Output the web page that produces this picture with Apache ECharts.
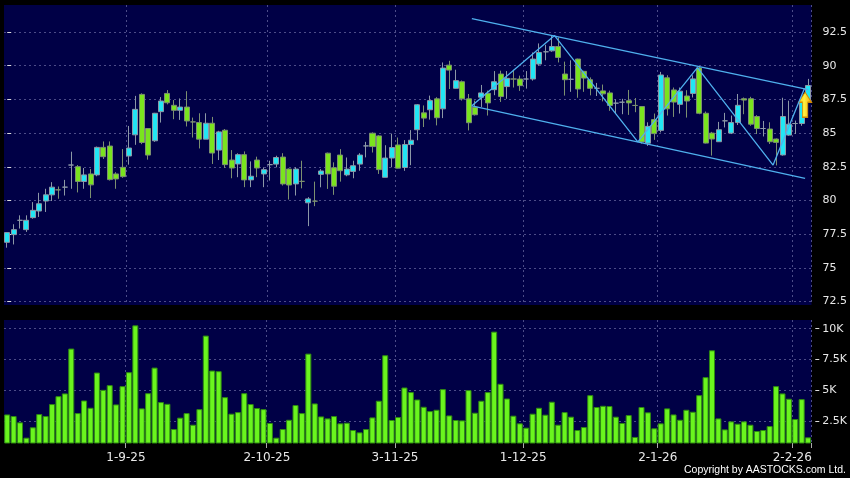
<!DOCTYPE html>
<html>
<head>
<meta charset="utf-8">
<title>AASTOCKS daily chart</title>
<script src="https://cdn.jsdelivr.net/npm/echarts@6/dist/echarts.min.js"></script>
<style>
  html, body { margin: 0; padding: 0; background: #000; }
  #chart { width: 850px; height: 478px; }
</style>
</head>
<body>
<div id="chart"></div>
<script>
// trading days (D-M-YY)
const dates = [
  '5-8-25','6-8-25','7-8-25','8-8-25','11-8-25','12-8-25','13-8-25','14-8-25','15-8-25','18-8-25',
  '19-8-25','20-8-25','21-8-25','22-8-25','25-8-25','26-8-25','27-8-25','28-8-25','29-8-25',
  '1-9-25','2-9-25','3-9-25','4-9-25','5-9-25','8-9-25','9-9-25','10-9-25','11-9-25','12-9-25',
  '15-9-25','16-9-25','17-9-25','18-9-25','19-9-25','22-9-25','23-9-25','24-9-25','25-9-25','26-9-25',
  '29-9-25','30-9-25',
  '2-10-25','3-10-25','6-10-25','8-10-25','9-10-25','10-10-25','13-10-25','14-10-25','15-10-25','16-10-25',
  '17-10-25','20-10-25','21-10-25','22-10-25','23-10-25','24-10-25','27-10-25','28-10-25','30-10-25','31-10-25',
  '3-11-25','4-11-25','5-11-25','6-11-25','7-11-25','10-11-25','11-11-25','12-11-25','13-11-25','14-11-25',
  '17-11-25','18-11-25','19-11-25','20-11-25','21-11-25','24-11-25','25-11-25','26-11-25','27-11-25','28-11-25',
  '1-12-25','2-12-25','3-12-25','4-12-25','5-12-25','8-12-25','9-12-25','10-12-25','11-12-25','12-12-25',
  '15-12-25','16-12-25','17-12-25','18-12-25','19-12-25','22-12-25','23-12-25','24-12-25','29-12-25','30-12-25',
  '31-12-25',
  '2-1-26','5-1-26','6-1-26','7-1-26','8-1-26','9-1-26','12-1-26','13-1-26','14-1-26','15-1-26',
  '16-1-26','19-1-26','20-1-26','21-1-26','22-1-26','23-1-26','26-1-26','27-1-26','28-1-26','29-1-26',
  '30-1-26',
  '2-2-26','3-2-26','4-2-26'
];

// open, close, low, high
const candles = [
  [76.90,77.62,76.50,77.64],[77.47,77.84,76.74,78.24],[78.53,78.53,77.92,78.90],[77.84,78.53,77.67,78.90],
  [78.73,79.27,78.65,79.88],[79.22,79.76,78.78,80.57],[79.96,80.42,79.15,80.87],[80.42,80.99,79.96,81.36],
  [80.79,80.79,80.13,81.04],[80.99,80.99,80.37,81.53],[82.63,82.63,80.87,83.62],[82.51,81.41,80.60,82.63],
  [81.41,81.90,80.87,82.41],[81.97,81.16,80.18,82.34],[81.90,83.94,81.80,84.00],[83.94,83.25,83.08,84.38],
  [84.04,81.55,81.48,84.38],[81.97,81.60,80.87,82.10],[82.46,81.77,81.68,83.81],[83.30,83.89,82.66,85.53],
  [84.87,86.76,84.13,87.76],[87.87,84.30,84.18,87.95],[85.34,83.37,83.03,85.34],[84.43,86.47,84.35,86.50],
  [86.59,87.38,85.78,87.67],[87.94,87.25,87.13,88.19],[87.06,86.69,86.03,87.45],[86.69,86.93,85.98,87.57],
  [86.93,85.90,85.49,88.11],[85.83,85.83,84.67,86.15],[85.78,84.55,83.86,86.47],[84.55,85.73,84.55,86.47],
  [85.73,83.52,82.71,86.20],[83.74,85.09,83.00,85.17],[85.21,82.66,82.41,85.30],[83.00,82.41,81.65,83.74],
  [82.71,83.40,81.73,83.50],[83.40,81.53,80.99,83.64],[81.53,81.80,80.99,82.90],[83.00,82.41,81.73,83.25],
  [81.97,82.29,80.99,82.46],[82.66,82.66,81.48,82.95],[82.70,83.19,82.46,83.32],[83.22,81.23,81.11,83.51],
  [82.33,81.15,80.07,82.38],[81.23,82.33,80.37,82.46],[81.42,81.42,80.90,82.95],[79.83,80.12,78.10,80.25],
  [79.95,79.95,79.58,81.40],[81.94,82.19,80.98,82.33],[83.51,81.97,80.86,83.55],[82.43,81.06,80.42,82.83],
  [83.37,82.21,81.40,83.81],[81.90,82.33,81.80,83.19],[82.16,82.58,81.65,82.95],[82.70,83.37,82.21,83.51],
  [84.05,84.05,83.20,84.35],[84.99,84.00,83.56,85.05],[84.79,82.29,81.97,84.85],[81.72,83.15,81.72,84.10],
  [83.15,83.93,82.46,84.96],[84.12,82.40,82.38,84.67],[82.45,84.15,82.20,84.48],[84.15,84.47,82.62,85.22],
  [85.25,87.10,84.47,87.15],[86.50,86.11,85.45,87.05],[86.73,87.41,86.00,87.78],[87.54,86.14,85.57,87.66],
  [86.80,89.82,86.11,90.24],[90.04,89.67,88.27,90.36],[88.32,88.89,88.30,89.70],[88.81,87.54,87.41,88.90],
  [87.54,85.77,85.20,87.90],[86.92,86.36,86.30,87.41],[87.66,87.98,86.94,88.57],[87.95,87.24,86.30,88.15],
  [88.22,88.81,87.81,89.60],[89.38,87.71,87.31,89.63],[88.45,89.06,87.54,89.60],[89.01,89.01,88.38,89.70],
  [89.01,88.52,88.13,89.26],[89.01,89.01,88.30,89.60],[89.01,90.49,88.89,90.98],[90.12,90.98,89.99,91.65],
  [91.03,91.03,90.40,91.55],[91.10,91.42,91.03,92.20],[91.42,90.61,90.24,92.10],[89.38,88.96,87.78,90.30],
  [88.99,88.99,88.06,90.40],[90.49,88.27,87.62,90.52],[89.58,89.08,88.06,89.62],[88.96,88.32,87.80,89.13],
  [88.32,88.32,87.75,88.72],[88.13,87.91,87.35,88.60],[87.98,87.05,86.65,88.15],[87.22,87.22,86.45,87.50],
  [87.29,87.29,86.40,87.54],[87.40,87.24,86.35,88.20],[87.05,87.05,86.55,87.60],[86.97,84.34,84.22,87.00],
  [84.25,85.50,84.05,85.80],[86.00,84.96,84.50,86.45],[85.20,89.31,85.05,89.54],[89.10,86.80,86.30,89.29],
  [88.20,87.30,86.20,88.38],[87.13,88.11,86.45,88.38],[87.75,87.38,86.15,88.18],[87.94,89.02,87.64,89.29],
  [89.83,86.47,86.40,89.96],[86.47,84.26,84.23,86.60],[85.00,84.56,83.33,85.09],[84.36,85.25,84.35,85.83],
  [85.91,85.91,85.42,86.50],[85.00,85.78,84.93,86.30],[85.78,87.06,85.60,87.90],[87.55,87.45,86.40,87.64],
  [87.55,85.66,85.54,87.69],[86.23,85.34,84.93,86.33],[85.34,85.34,84.75,85.90],[85.30,84.36,84.19,85.80],
  [84.56,84.31,82.60,84.60],[83.38,86.23,83.33,87.62],[84.85,85.66,84.80,87.40],[85.71,85.71,84.93,85.93],
  [85.71,87.38,85.54,87.50],[87.38,88.53,87.25,89.02]
];

const volumes = [
  3060,2930,2420,1180,2020,3090,2930,3900,4540,4760,8390,3170,4190,3600,6450,5050,5430,3870,5350,6480,
  10270,3550,4780,6850,4060,3920,1880,2800,3170,2230,3490,9440,6610,6560,4460,3120,3250,4780,3900,3580,
  3490,2370,1180,1880,2630,3820,3170,7980,3950,2900,2740,2930,2340,2390,1800,1610,1880,2820,4170,7850,
  2610,2850,5240,4870,4270,3680,3330,3440,5110,2980,2610,2580,5030,3200,4170,4870,9760,5540,4350,2960,
  2340,1990,3120,3600,3040,4090,2230,3250,2880,1800,2040,4620,3660,3760,3740,2880,2370,3010,1240,3660,
  3230,1940,2340,3550,3060,2630,3440,3280,4620,6080,8250,2740,1850,2500,2310,2500,2230,1720,1800,2120,
  5350,4760,4330,2690,4300,1210
];

const priceTicks = [72.5, 75, 77.5, 80, 82.5, 85, 87.5, 90, 92.5];
const volumeTicks = [2500, 5000, 7500, 10000];

// drawn lines, [bar index, price]
const zigzag = [[72.5, 87.02], [85.4, 92.23], [98.4, 84.35], [107.7, 89.86], [119.5, 82.63], [124.4, 88.3]];
const upperChannel = [[72.5, 93.49], [125, 88.22]];
const lowerChannel = [[72.5, 87.02], [124.5, 81.64]];
const arrowMark = [[124.5, 87.1]];

function monthStart(i) {
  if (i === 0) return false;
  return dates[i].split('-')[1] !== dates[i - 1].split('-')[1];
}

const gridLine = { show: true, lineStyle: { color: '#4c4c88', type: [2, 3], width: 1 } };
const labelFont = { color: '#e8e8e8', fontFamily: 'DejaVu Sans' };
const drawColor = '#4fb0ee';

const chart = echarts.init(document.getElementById('chart'));
const option = {
  backgroundColor: '#000',
  animation: false,
  grid: [
    { left: 4, right: 36, top: 5, height: 300, show: true, backgroundColor: '#000046', borderWidth: 0 },
    { left: 4, right: 36, top: 320, height: 123, show: true, backgroundColor: '#000046', borderWidth: 0 }
  ],
  xAxis: [
    {
      type: 'category', gridIndex: 0, data: dates, boundaryGap: true,
      axisLine: { show: false }, axisTick: { show: false }, axisLabel: { show: false },
      splitLine: Object.assign({ interval: monthStart }, gridLine)
    },
    {
      type: 'category', gridIndex: 1, data: dates, boundaryGap: true,
      axisLine: { show: false },
      axisTick: { show: true, interval: monthStart, length: 5, lineStyle: { color: '#aaa' } },
      axisLabel: Object.assign({ interval: monthStart, fontSize: 12, margin: 9, padding: [0, 6, 0, 0] }, labelFont),
      splitLine: Object.assign({ interval: monthStart }, gridLine)
    },
    { type: 'value', gridIndex: 0, min: -0.5, max: dates.length - 0.5, show: false }
  ],
  yAxis: [
    {
      type: 'value', gridIndex: 0, position: 'right', min: 72.25, max: 94.5, offset: 4,
      axisLine: { show: false },
      axisTick: { show: true, length: 4, customValues: priceTicks, lineStyle: { color: '#ddd' } },
      axisLabel: Object.assign({ fontSize: 11, margin: 7, customValues: priceTicks }, labelFont),
      splitLine: gridLine
    },
    {
      type: 'value', gridIndex: 1, position: 'right', min: 750, max: 10700, offset: 4,
      axisLine: { show: false },
      axisTick: { show: true, length: 4, customValues: volumeTicks, lineStyle: { color: '#ddd' } },
      axisLabel: Object.assign({
        fontSize: 11, margin: 7, customValues: volumeTicks,
        formatter: function (v) { return (v / 1000) + 'K'; }
      }, labelFont),
      splitLine: gridLine
    }
  ],
  series: [
    {
      type: 'candlestick', xAxisIndex: 0, yAxisIndex: 0, data: candles, barWidth: '86%',
      itemStyle: {
        color: '#22e6f4', color0: '#7ae41e',
        borderColor: '#8c98a6', borderColor0: '#7c9070', borderWidth: 1
      }
    },
    {
      type: 'bar', xAxisIndex: 1, yAxisIndex: 1, data: volumes, barWidth: '94%',
      itemStyle: { color: '#6af51e', borderColor: '#2f8a12', borderWidth: 1 }
    },
    {
      type: 'line', xAxisIndex: 2, yAxisIndex: 0, data: zigzag, symbol: 'none',
      lineStyle: { color: drawColor, width: 1.3 }
    },
    {
      type: 'line', xAxisIndex: 2, yAxisIndex: 0, data: upperChannel, symbol: 'none',
      lineStyle: { color: drawColor, width: 1.3 }
    },
    {
      type: 'line', xAxisIndex: 2, yAxisIndex: 0, data: lowerChannel, symbol: 'none',
      lineStyle: { color: drawColor, width: 1.3 }
    },
    {
      type: 'scatter', xAxisIndex: 2, yAxisIndex: 0, data: arrowMark,
      symbol: 'path://M6,0 L12,8 L8.5,8 L8.5,20 L3.5,20 L3.5,8 L0,8 Z', symbolSize: [13, 25],
      itemStyle: {
        opacity: 1,
        color: new echarts.graphic.LinearGradient(0, 0, 1, 0, [
          { offset: 0, color: '#ffd000' }, { offset: 0.45, color: '#fff040' }, { offset: 1, color: '#f5a300' }
        ]),
        borderColor: '#d08a00', borderWidth: 1
      }
    }
  ],
  graphic: [
    {
      type: 'text', right: 4, top: 465,
      style: { text: 'Copyright by AASTOCKS.com Ltd.', fill: '#fff', font: '10.5px "Liberation Sans"' }
    }
  ]
};
chart.setOption(option);
</script>
</body>
</html>
